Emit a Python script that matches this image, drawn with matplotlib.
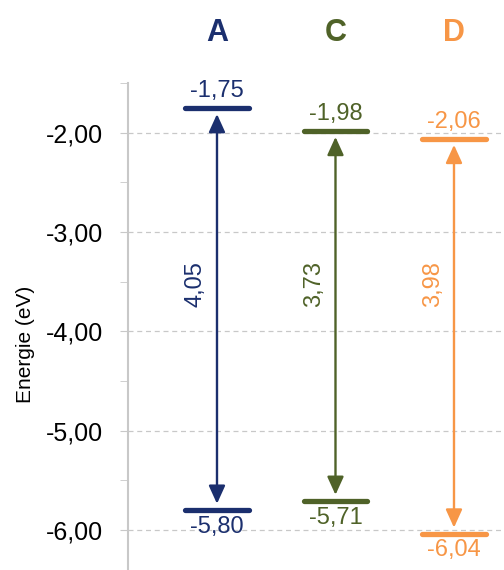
import matplotlib
matplotlib.use("Agg")
import matplotlib.pyplot as plt
from matplotlib.ticker import MultipleLocator, FuncFormatter

plt.rcParams['font.family'] = ['Liberation Sans', 'DejaVu Sans']

# data
names = ['A', 'C', 'D']
lumo = [-1.75, -1.98, -2.06]
homo = [-5.80, -5.71, -6.04]
gaps = [4.05, 3.73, 3.98]
colors = ['#1b2f6e', '#4f6228', '#f79646']


def fmt(v):
    return f"{v:.2f}".replace('.', ',')


fig = plt.figure(figsize=(5.04, 5.7), dpi=100)
ax = fig.add_axes([128 / 504, 0.0, 1 - 128 / 504, 1 - 83 / 570])

ax.set_xlim(-0.751, 2.422)
ax.set_ylim(-6.404, -1.5)

half = 0.266
for i, name in enumerate(names):
    c = colors[i]
    # levels
    for e in (lumo[i], homo[i]):
        ax.plot([i - half, i + half], [e, e], color=c, lw=3.8,
                solid_capstyle='round', zorder=3)
    # double arrow
    ax.annotate('', xy=(i, lumo[i]), xytext=(i, homo[i]),
                arrowprops=dict(arrowstyle='<|-|>,head_length=1.1,head_width=0.5',
                                color=c, lw=1.7, shrinkA=4.5, shrinkB=4.5),
                zorder=3)
    # value labels
    ax.annotate(fmt(lumo[i]), (i, lumo[i]), xytext=(0, 4), textcoords='offset points',
                ha='center', va='bottom', color=c, fontsize=17)
    ax.annotate(fmt(homo[i]), (i, homo[i]), xytext=(0, -4), textcoords='offset points',
                ha='center', va='top', color=c, fontsize=17)
    ax.text(i - 0.18, -3.52, fmt(gaps[i]), rotation=90, ha='center', va='center',
            color=c, fontsize=17)
    # column title
    ax.annotate(name, (i, 1.103), xycoords=('data', 'axes fraction'),
                ha='center', va='center', color=c, fontsize=22, fontweight='bold',
                annotation_clip=False)

ax.yaxis.set_major_locator(MultipleLocator(1.0))
ax.yaxis.set_minor_locator(MultipleLocator(0.5))
ax.yaxis.set_major_formatter(FuncFormatter(lambda v, p: fmt(v)))
ax.tick_params(axis='y', which='both', length=6, color='#c8c8c8', labelsize=18, pad=12)
ax.set_xticks([])
ax.grid(axis='y', which='major', color='#c8c8c8', linestyle=(0, (4, 3)), lw=0.9)
ax.set_axisbelow(True)

for s in ('top', 'right', 'bottom'):
    ax.spines[s].set_visible(False)
ax.spines['left'].set_color('#c8c8c8')
ax.spines['left'].set_linewidth(1.5)

ax.set_ylabel('Energie (eV)', fontsize=15)
ax.yaxis.set_label_coords(-0.247, 0.464)

fig.savefig('out.png', dpi=100)
